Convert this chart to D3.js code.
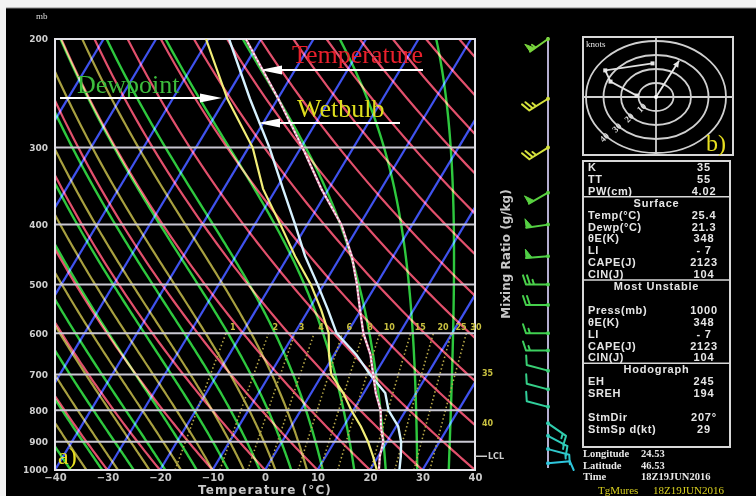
<!DOCTYPE html>
<html>
<head>
<meta charset="utf-8">
<script src="https://cdn.jsdelivr.net/npm/d3@7"></script>
<style>
  body { margin: 0; background: #000; }
  svg { display: block; }
</style>
</head>
<body>
<div id="chart"></div>
<script>
// sounding levels (mb) and profiles (deg C)
const levels = [200, 250, 300, 350, 400, 450, 500, 550, 600, 650, 700, 750, 800, 850, 900, 950, 1000];
const temperature = [-52.9, -39.9, -29.7, -21.4, -13.5, -7.9, -3.7, -0.2, 3.1, 6.9, 9.7, 12.3, 15.2, 17.1, 19.3, 20.3, 21.7];
const wetbulb = [-56.1, -45.3, -36.0, -28.7, -22.3, -16.8, -11.2, -6.3, -2.0, 4.2, 9.1, 14.1, 16.7, 20.4, 22.7, 24.3, 25.6];
const dewpoint = [-60.5, -49.6, -39.2, -32.5, -25.1, -18.7, -12.5, -7.6, -3.5, -1.0, 1.7, 6.1, 9.6, 13.3, 16.4, 19.0, 21.3];

// axis ticks
const pressureTicks = [200, 300, 400, 500, 600, 700, 800, 900, 1000];
const tempTicks = [-40, -30, -20, -10, 0, 10, 20, 30, 40];

// background diagram families
const isotherms = [-90, -80, -70, -60, -50, -40, -30, -20, -10, 0, 10, 20, 30, 40];
const dryAdiabats = [-40, -30, -20, -10, 0, 10, 20, 30, 40, 50, 60, 70, 80, 90, 100, 110, 120, 130, 140, 150];
const moistAdiabats = [-37, -31, -25, -19, -13, -7, -1, 5, 11, 17, 23, 29, 35, 41];
const moistAdiabatsOlive = [-40, -34, -28, -22, -16, -10, -4, 2, 8];
const mixingRatios = [1, 2, 3, 4, 6, 8, 10, 15, 20, 25, 30];
const sideLabels = ["35", "40"];
const sideLabelP = [695, 840];
const lclP = 950;

// winds
const windP = [200, 250, 300, 355, 400, 450, 500, 540, 600, 640, 690, 740, 790, 840, 880, 925, 975];
const windDir = [235, 238, 238, 240, 262, 265, 270, 270, 270, 270, 285, 285, 285, 125, 118, 105, 85];
const windSpd = [55, 25, 25, 50, 50, 50, 25, 20, 15, 15, 10, 10, 10, 15, 15, 15, 10];

// hodograph (knots)
const hodoU = [-11, -26, -29, -2];
const hodoV = [1, 11, 19, 24];
const hodoRings = [10, 20, 30, 40];
const stormDir = 207, stormSpd = 29;

// stability table
const tableRows = [
  ["K", "35"], ["TT", "55"], ["PW(cm)", "4.02"],
  ["#Surface"],
  ["Temp(°C)", "25.4"], ["Dewp(°C)", "21.3"], ["θE(K)", "348"], ["LI", "- 7"], ["CAPE(J)", "2123"], ["CIN(J)", "104"],
  ["#Most Unstable"],
  ["", ""],
  ["Press(mb)", "1000"], ["θE(K)", "348"], ["LI", "- 7"], ["CAPE(J)", "2123"], ["CIN(J)", "104"],
  ["#Hodograph"],
  ["EH", "245"], ["SREH", "194"], ["", ""], ["StmDir", "207°"], ["StmSp d(kt)", "29"]
];
const stationInfo = [["Longitude", "24.53"], ["Latitude", "46.53"], ["Time", "18Z19JUN2016"]];

(function () {
  const W = 756, H = 496;
  const plot = { left: 55, right: 475, top: 39, bottom: 470 };
  const skew = 0.6;

  const svg = d3.select("#chart").append("svg").attr("width", W).attr("height", H);
  svg.append("rect").attr("width", W).attr("height", H).attr("fill", "#000");
  // scanned page edge
  svg.append("rect").attr("width", W).attr("height", 8).attr("fill", "#f2f2f2");
  svg.append("rect").attr("width", 6).attr("height", H).attr("fill", "#f2f2f2");
  svg.append("line").attr("x1", 6).attr("x2", W).attr("y1", 8).attr("y2", 8).attr("stroke", "#888");

  const x = d3.scaleLinear().domain([-40, 40]).range([plot.left, plot.right]);
  const y = d3.scaleLog().domain([1000, 200]).range([plot.bottom, plot.top]);
  const sx = (t, p) => x(t) + (plot.bottom - y(p)) * skew;

  svg.append("defs").append("clipPath").attr("id", "plotclip")
    .append("rect")
    .attr("x", plot.left).attr("y", plot.top)
    .attr("width", plot.right - plot.left).attr("height", plot.bottom - plot.top);

  const grid = svg.append("g").attr("clip-path", "url(#plotclip)");
  const line = d3.line().x((d) => sx(d[0], d[1])).y((d) => y(d[1]));

  function moist(tw) {
    const Rd = 287.04, cp = 1005.7, Lv = 2.501e6, eps = 0.622;
    const grad = (T, p) => {
      const tc = T - 273.15;
      const es = 6.112 * Math.exp((17.67 * tc) / (tc + 243.5));
      const rs = (eps * es) / (p - es);
      return (Rd * T + Lv * rs) / (p * (cp + (Lv * Lv * rs * eps) / (Rd * T * T)));
    };
    let T = tw + 273.15, p = 1000;
    const pts = [[tw, p]];
    const dp = -5;
    while (p > 200) {
      const k1 = grad(T, p);
      const k2 = grad(T + k1 * dp, p + dp);
      T += 0.5 * (k1 + k2) * dp;
      p += dp;
      pts.push([T - 273.15, p]);
    }
    return pts;
  }

  const pRange = d3.range(1000, 195, -10);

  grid.selectAll(".iso").data(isotherms).join("path")
    .attr("d", (t) => line([[t, 1000], [t, 200]]))
    .attr("stroke", "#3f52ee").attr("stroke-width", 2.2).attr("fill", "none")
    .style("mix-blend-mode", "screen");

  grid.selectAll(".dry").data(dryAdiabats).join("path")
    .attr("d", (th) => line(pRange.map((p) => [(th + 273.15) * Math.pow(p / 1000, 0.2857) - 273.15, p])))
    .attr("stroke", "#e2506c").attr("stroke-width", 2.2).attr("fill", "none")
    .style("mix-blend-mode", "screen");

  grid.selectAll(".olive").data(moistAdiabatsOlive).join("path")
    .attr("d", (tw) => line(moist(tw)))
    .attr("stroke", "#a8a040").attr("stroke-width", 2.2).attr("fill", "none")
    .style("mix-blend-mode", "screen");

  grid.selectAll(".moist").data(moistAdiabats).join("path")
    .attr("d", (tw) => line(moist(tw)))
    .attr("stroke", "#2ec83e").attr("stroke-width", 2.4).attr("fill", "none")
    .style("mix-blend-mode", "screen");

  const mixT = (w, p) => {
    const e = (w * p) / (622 + w);
    const l = Math.log(e / 6.112);
    return (243.5 * l) / (17.67 - l);
  };
  const pMix = d3.range(1000, 595, -10);
  grid.selectAll(".mix").data(mixingRatios).join("path")
    .attr("d", (w) => line(pMix.map((p) => [mixT(w, p), p])))
    .attr("stroke", "#b8a848").attr("stroke-width", 1.6).attr("fill", "none")
    .attr("stroke-dasharray", "1.5,2.5");

  // isobars
  svg.append("g").selectAll("line").data(pressureTicks).join("line")
    .attr("x1", plot.left).attr("x2", plot.right)
    .attr("y1", (p) => y(p)).attr("y2", (p) => y(p))
    .attr("stroke", "#c9c7d2").attr("stroke-width", 2);

  svg.append("rect")
    .attr("x", plot.left).attr("y", plot.top)
    .attr("width", plot.right - plot.left).attr("height", plot.bottom - plot.top)
    .attr("fill", "none").attr("stroke", "#e4e4ea").attr("stroke-width", 2);

  // mixing ratio labels
  svg.append("g").selectAll("text").data(mixingRatios).join("text")
    .attr("x", (w) => sx(mixT(w, 600), 600) + 4)
    .attr("y", y(600) - 3)
    .attr("font-family", "DejaVu Sans").attr("font-weight", "bold")
    .attr("font-size", 8).attr("fill", "#c8c040")
    .text((w) => w);

  svg.append("g").selectAll("text").data(sideLabels).join("text")
    .attr("x", plot.right + 7).attr("y", (d, i) => y(sideLabelP[i]) + 3)
    .attr("font-family", "DejaVu Sans").attr("font-weight", "bold")
    .attr("font-size", 8).attr("fill", "#c8c040")
    .text((d) => d);

  svg.append("line")
    .attr("x1", plot.right).attr("x2", plot.right + 12)
    .attr("y1", y(lclP)).attr("y2", y(lclP))
    .attr("stroke", "#ccc").attr("stroke-width", 1.5);
  svg.append("text")
    .attr("x", plot.right + 13).attr("y", y(lclP) + 3)
    .attr("font-family", "DejaVu Sans").attr("font-weight", "bold")
    .attr("font-size", 8).attr("fill", "#ccc").text("LCL");

  // profiles
  const prof = svg.append("g").attr("clip-path", "url(#plotclip)");
  const profLine = d3.line().x((d, i) => sx(d, levels[i])).y((d, i) => y(levels[i]));
  prof.append("path").attr("d", profLine(dewpoint))
    .attr("fill", "none").attr("stroke", "#f2ee78").attr("stroke-width", 2.2);
  prof.append("path").attr("d", profLine(wetbulb))
    .attr("fill", "none").attr("stroke", "#d6f2ff").attr("stroke-width", 2.4);
  prof.append("path").attr("d", profLine(temperature))
    .attr("fill", "none").attr("stroke", "#e890b4").attr("stroke-width", 2.4);
  prof.append("path").attr("d", profLine(temperature))
    .attr("fill", "none").attr("stroke", "#fff").attr("stroke-width", 1.6)
    .attr("stroke-dasharray", "2,2");

  // axes
  const axB = svg.append("g")
    .attr("transform", `translate(0,${plot.bottom + 1})`)
    .call(d3.axisBottom(x).tickValues(tempTicks).tickSize(0)
      .tickFormat((d) => (d < 0 ? "\u2212" + -d : d)));
  axB.select(".domain").remove();
  axB.selectAll("text")
    .attr("font-family", "DejaVu Sans").attr("font-weight", "bold")
    .attr("font-size", 10).attr("fill", "#c8c8c8");

  const axL = svg.append("g")
    .attr("transform", `translate(${plot.left - 4},0)`)
    .call(d3.axisLeft(y).tickValues(pressureTicks).tickSize(0).tickFormat(d3.format("d")));
  axL.select(".domain").remove();
  axL.selectAll("text")
    .attr("font-family", "DejaVu Sans").attr("font-weight", "bold")
    .attr("font-size", 9).attr("fill", "#cfcfcf");

  svg.append("text").attr("x", 36).attr("y", 19)
    .attr("font-family", "Liberation Serif").attr("font-size", 9).attr("fill", "#ddd").text("mb");

  svg.append("text")
    .attr("x", (plot.left + plot.right) / 2).attr("y", 494)
    .attr("text-anchor", "middle")
    .attr("font-family", "DejaVu Sans").attr("font-weight", "bold")
    .attr("font-size", 12).attr("letter-spacing", 1.1).attr("fill", "#c8c8c8")
    .text("Temperature  (°C)");

  svg.append("text")
    .attr("transform", "translate(510,254) rotate(-90)")
    .attr("text-anchor", "middle")
    .attr("font-family", "DejaVu Sans").attr("font-weight", "bold")
    .attr("font-size", 12).attr("fill", "#c8c8c8")
    .text("Mixing Ratio (g/kg)");

  // annotations
  const serif = "Liberation Serif";
  const ann = svg.append("g");
  ann.append("text").attr("x", 292).attr("y", 63)
    .attr("font-family", serif).attr("font-size", 26).attr("fill", "#e8202c").text("Temperature");
  ann.append("text").attr("x", 297).attr("y", 117)
    .attr("font-family", serif).attr("font-size", 26).attr("fill", "#dede1e").text("Wetbulb");
  ann.append("text").attr("x", 77).attr("y", 93)
    .attr("font-family", serif).attr("font-size", 26).attr("fill", "#3cbc3c").text("Dewpoint");
  ann.append("text").attr("x", 58).attr("y", 464)
    .attr("font-family", serif).attr("font-size", 24).attr("fill", "#e8e020").text("a)");

  function arrow(x1, x2, yy) {
    const dir = Math.sign(x2 - x1);
    ann.append("line").attr("x1", x1).attr("x2", x2 - dir * 18).attr("y1", yy).attr("y2", yy)
      .attr("stroke", "#fff").attr("stroke-width", 2);
    ann.append("path")
      .attr("d", `M${x2},${yy}L${x2 - dir * 22},${yy - 4.5}L${x2 - dir * 22},${yy + 4.5}Z`)
      .attr("fill", "#fff");
  }
  arrow(423, 260, 70);
  arrow(400, 258, 123);
  arrow(60, 222, 98);

  // wind profile
  const wx = 548;
  svg.append("line").attr("x1", wx).attr("x2", wx).attr("y1", y(200) - 2).attr("y2", y(1000) - 2)
    .attr("stroke", "#b4aed0").attr("stroke-width", 2);
  const windColor = d3.scaleLinear()
    .domain([200, 240, 320, 350, 600, 800, 1000])
    .range(["#78d43c", "#d6e23c", "#d6e23c", "#5ad040", "#40d050", "#30cfa0", "#2ec4e4"]);

  function barb(g, x0, y0, dir, spd, color) {
    const L = 22, bl = 9, step = 4;
    const a = (dir * Math.PI) / 180;
    const ux = Math.sin(a), uy = -Math.cos(a);
    const bx = -uy, by = ux;
    const tx = x0 + ux * L, ty = y0 + uy * L;
    let d = `M${x0},${y0}L${tx},${ty}`;
    let s = Math.round(spd / 5) * 5;
    let pos = 0;
    let flags = "";
    while (s >= 50) {
      const p1x = tx - ux * pos, p1y = ty - uy * pos;
      const p2x = tx - ux * (pos + 6), p2y = ty - uy * (pos + 6);
      flags += `M${p1x},${p1y}L${p1x + bx * bl},${p1y + by * bl}L${p2x},${p2y}Z`;
      pos += 7;
      s -= 50;
    }
    while (s >= 10) {
      const px = tx - ux * pos, py = ty - uy * pos;
      d += `M${px},${py}L${px + bx * bl + ux * 3},${py + by * bl + uy * 3}`;
      pos += step;
      s -= 10;
    }
    if (s >= 5) {
      if (pos === 0) pos = step;
      const px = tx - ux * pos, py = ty - uy * pos;
      d += `M${px},${py}L${px + bx * bl * 0.5 + ux * 1.5},${py + by * bl * 0.5 + uy * 1.5}`;
    }
    g.append("path").attr("d", d).attr("fill", "none").attr("stroke", color)
      .attr("stroke-width", 2).attr("stroke-linecap", "round");
    if (flags) g.append("path").attr("d", flags).attr("fill", color).attr("stroke", color).attr("stroke-width", 1);
    g.append("circle").attr("cx", x0).attr("cy", y0).attr("r", 2).attr("fill", color);
  }
  const wg = svg.append("g");
  windP.forEach((p, i) => barb(wg, wx, y(p), windDir[i], windSpd[i], windColor(p)));

  // hodograph
  const hb = { x: 583, y: 37, w: 150, h: 118 };
  const hcx = 656, hcy = 97;
  const hu = d3.scaleLinear().domain([-40, 40]).range([hcx - 70, hcx + 70]);
  const hv = d3.scaleLinear().domain([-40, 40]).range([hcy + 56, hcy - 56]);
  const hg = svg.append("g");
  hg.append("rect").attr("x", hb.x).attr("y", hb.y).attr("width", hb.w).attr("height", hb.h)
    .attr("fill", "#000").attr("stroke", "#d8d8d8").attr("stroke-width", 2);
  hg.selectAll("ellipse").data(hodoRings).join("ellipse")
    .attr("cx", hcx).attr("cy", hcy)
    .attr("rx", (r) => hu(r) - hcx).attr("ry", (r) => hcy - hv(r))
    .attr("fill", "none").attr("stroke", "#d0d0d0").attr("stroke-width", 1.8);
  hg.append("line").attr("x1", hb.x).attr("x2", hb.x + hb.w).attr("y1", hcy).attr("y2", hcy)
    .attr("stroke", "#d0d0d0").attr("stroke-width", 1.8);
  hg.append("line").attr("x1", hcx).attr("x2", hcx).attr("y1", hb.y).attr("y2", hb.y + hb.h)
    .attr("stroke", "#d0d0d0").attr("stroke-width", 1.8);
  hg.selectAll(".rl").data(hodoRings).join("text")
    .attr("transform", (r) => `translate(${hu(-r * 0.7071)},${hv(-r * 0.7071) + 3}) rotate(-45)`)
    .attr("text-anchor", "middle")
    .attr("font-family", serif).attr("font-weight", "bold")
    .attr("font-size", 9).attr("fill", "#e0e0e0")
    .text((r) => r);
  const hodoPts = hodoU.map((u, i) => [hu(u), hv(hodoV[i])]);
  hg.append("path").attr("d", d3.line()(hodoPts))
    .attr("fill", "none").attr("stroke", "#e0e0e0").attr("stroke-width", 1.8);
  hg.selectAll(".hp").data(hodoPts).join("rect")
    .attr("x", (d) => d[0] - 2).attr("y", (d) => d[1] - 2).attr("width", 4).attr("height", 4)
    .attr("fill", "#e8e8e8");
  const toA = ((stormDir + 180) * Math.PI) / 180;
  const smx = hu(stormSpd * Math.sin(toA)), smy = hv(stormSpd * Math.cos(toA));
  hg.append("line").attr("x1", hcx).attr("y1", hcy).attr("x2", smx).attr("y2", smy)
    .attr("stroke", "#e8e8e8").attr("stroke-width", 1.8);
  const ang = Math.atan2(smy - hcy, smx - hcx);
  const ah = 7;
  hg.append("path")
    .attr("d", `M${smx},${smy}L${smx - ah * Math.cos(ang - 0.45)},${smy - ah * Math.sin(ang - 0.45)}L${smx - ah * Math.cos(ang + 0.45)},${smy - ah * Math.sin(ang + 0.45)}Z`)
    .attr("fill", "#e8e8e8");
  hg.append("circle").attr("cx", hcx).attr("cy", hcy).attr("r", 2).attr("fill", "#fff");
  hg.append("text").attr("x", hb.x + 3).attr("y", hb.y + 10)
    .attr("font-family", serif).attr("font-size", 9).attr("fill", "#e8e8e8").text("knots");
  hg.append("text").attr("x", 706).attr("y", 151)
    .attr("font-family", serif).attr("font-size", 24).attr("fill", "#e8e020").text("b)");

  // stability table
  const tb = { x: 583, y: 161, w: 147, h: 286 };
  const tg = svg.append("g");
  tg.append("rect").attr("x", tb.x).attr("y", tb.y).attr("width", tb.w).attr("height", tb.h)
    .attr("fill", "#000").attr("stroke", "#d8d8d8").attr("stroke-width", 2);
  const rowY = d3.scaleLinear().domain([0, tableRows.length - 1]).range([167, 428.8]);
  const sans = "Liberation Sans";
  tableRows.forEach((r, i) => {
    const yy = rowY(i) + 4;
    if (r[0].startsWith("#")) {
      if (i > 0) {
        tg.append("line").attr("x1", tb.x).attr("x2", tb.x + tb.w)
          .attr("y1", rowY(i) - 6).attr("y2", rowY(i) - 6)
          .attr("stroke", "#d8d8d8").attr("stroke-width", 1.5);
      }
      tg.append("text").attr("x", tb.x + tb.w / 2).attr("y", yy).attr("text-anchor", "middle")
        .attr("font-family", sans).attr("font-weight", "bold").attr("font-size", 11)
        .attr("letter-spacing", 0.8).attr("fill", "#e6e6e6").text(r[0].slice(1));
    } else {
      tg.append("text").attr("x", tb.x + 5).attr("y", yy)
        .attr("font-family", sans).attr("font-weight", "bold").attr("font-size", 11)
        .attr("letter-spacing", 0.6).attr("fill", "#e6e6e6").text(r[0]);
      tg.append("text").attr("x", 704).attr("y", yy).attr("text-anchor", "middle")
        .attr("font-family", sans).attr("font-weight", "bold").attr("font-size", 11)
        .attr("letter-spacing", 0.8).attr("fill", "#e6e6e6").text(r[1]);
    }
  });

  stationInfo.forEach((r, i) => {
    const yy = 457 + i * 11.5;
    tg.append("text").attr("x", 583).attr("y", yy)
      .attr("font-family", serif).attr("font-weight", "bold").attr("font-size", 10.5)
      .attr("fill", "#e8e8e8").text(r[0]);
    tg.append("text").attr("x", 641).attr("y", yy)
      .attr("font-family", serif).attr("font-weight", "bold").attr("font-size", 10.5)
      .attr("fill", "#e8e8e8").text(r[1]);
  });
  tg.append("text").attr("x", 598).attr("y", 494)
    .attr("font-family", serif).attr("font-size", 11).attr("fill", "#d8d020").text("TgMures");
  tg.append("text").attr("x", 653).attr("y", 494)
    .attr("font-family", serif).attr("font-size", 11).attr("fill", "#d8d020").text("18Z19JUN2016");
})();
</script>
</body>
</html>
